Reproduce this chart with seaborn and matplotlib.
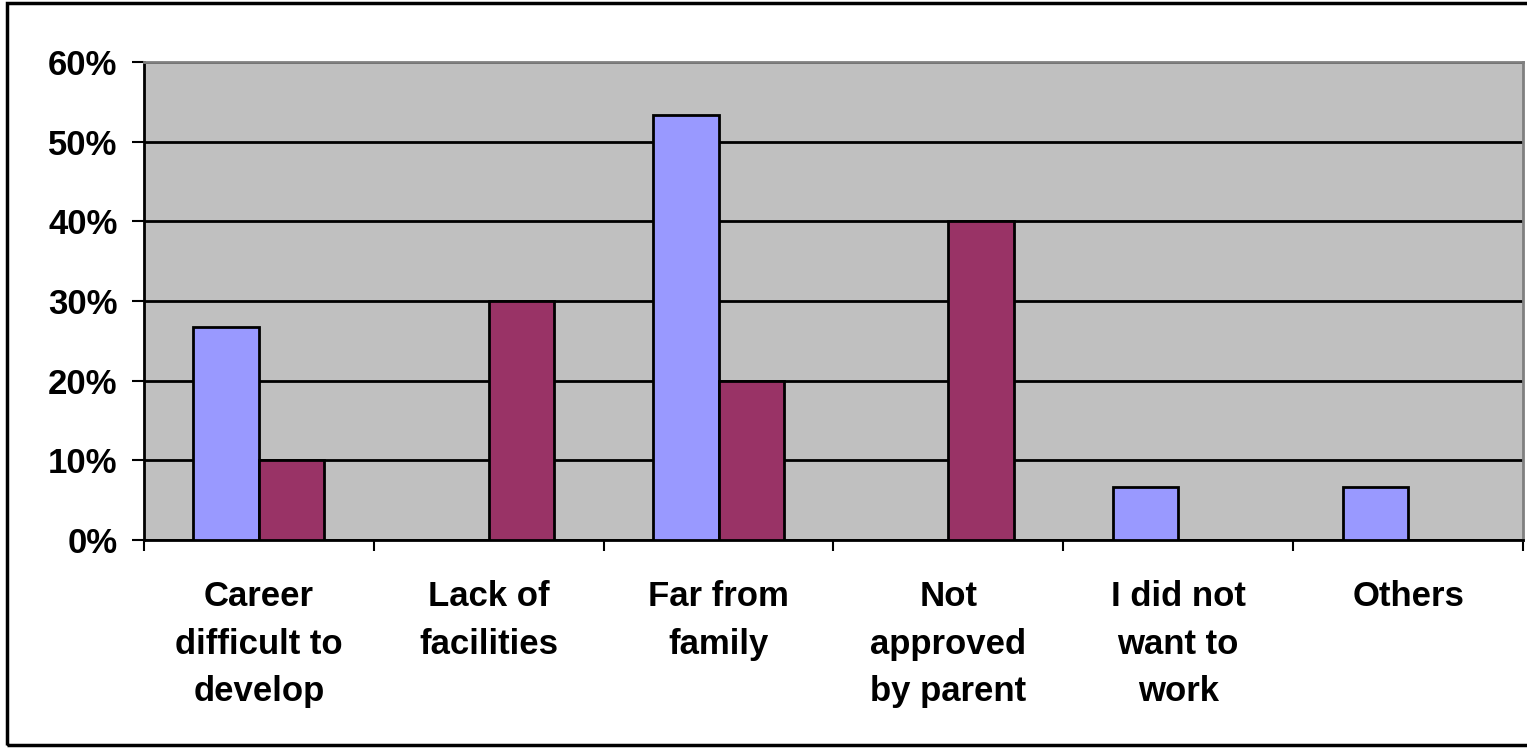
import seaborn as sns
import matplotlib.pyplot as plt
import pandas as pd
from matplotlib.patches import Rectangle
from matplotlib.ticker import PercentFormatter, FixedLocator

categories = ["Career\ndifficult to\ndevelop", "Lack of\nfacilities", "Far from\nfamily",
              "Not\napproved\nby parent", "I did not\nwant to\nwork", "Others"]
series_names = ["Series 1", "Series 2"]
series1 = [26.7, 0, 53.3, 0, 6.7, 6.7]
series2 = [10, 30, 20, 40, 0, 0]
colors = ["#9999FF", "#993366"]

df = pd.DataFrame({
    "category": categories * 2,
    "series": [series_names[0]] * 6 + [series_names[1]] * 6,
    "value": series1 + series2,
})

sns.set_style("white")
plt.rcParams["font.family"] = ["Liberation Sans", "DejaVu Sans"]
plt.rcParams["font.weight"] = "bold"
plt.rcParams["text.color"] = "black"
plt.rcParams["xtick.color"] = "black"
plt.rcParams["ytick.color"] = "black"

fig = plt.figure(figsize=(15.27, 7.48), dpi=100)
ax = fig.add_axes([144 / 1527, 1 - 540 / 748, (1523 - 144) / 1527, (540 - 62) / 748])
ax.set_facecolor("#C0C0C0")

sns.barplot(data=df, x="category", y="value", hue="series", palette=colors, saturation=1,
            width=0.57, edgecolor="black", linewidth=2, legend=False, ax=ax, zorder=3)

ax.set_ylim(0, 60)
ax.set_yticks(range(0, 61, 10))
ax.yaxis.set_major_formatter(PercentFormatter(decimals=0))
ax.yaxis.grid(True, color="black", linewidth=2)
ax.set_axisbelow(True)
ax.set_xlim(-0.5, 5.5)
ax.set_xlabel("")
ax.set_ylabel("")

# ticks between categories
ax.xaxis.set_major_locator(FixedLocator([i - 0.5 for i in range(7)]))
ax.xaxis.set_minor_locator(FixedLocator(range(6)))
ax.set_xticklabels([])
ax.set_xticklabels(categories, minor=True, fontsize=25, fontweight="bold",
                   linespacing=1.56, va="top")
ax.tick_params(axis="x", which="major", length=8, width=1.5, direction="out", bottom=True)
ax.tick_params(axis="x", which="minor", length=0, pad=29)
ax.tick_params(axis="y", length=9, width=1.5, direction="out", left=True, labelsize=25, pad=10)
for lab in ax.get_yticklabels():
    lab.set_fontweight("bold")

for side in ["left", "bottom"]:
    ax.spines[side].set_color("black")
    ax.spines[side].set_linewidth(2)
for side in ["top", "right"]:
    ax.spines[side].set_color("#808080")
    ax.spines[side].set_linewidth(2)

fig.patches.append(Rectangle((7 / 1527, 3 / 748), 1.1, 1 - 6 / 748, transform=fig.transFigure,
                             fill=False, edgecolor="black", linewidth=2.5))

fig.savefig("out.png", dpi=100)
